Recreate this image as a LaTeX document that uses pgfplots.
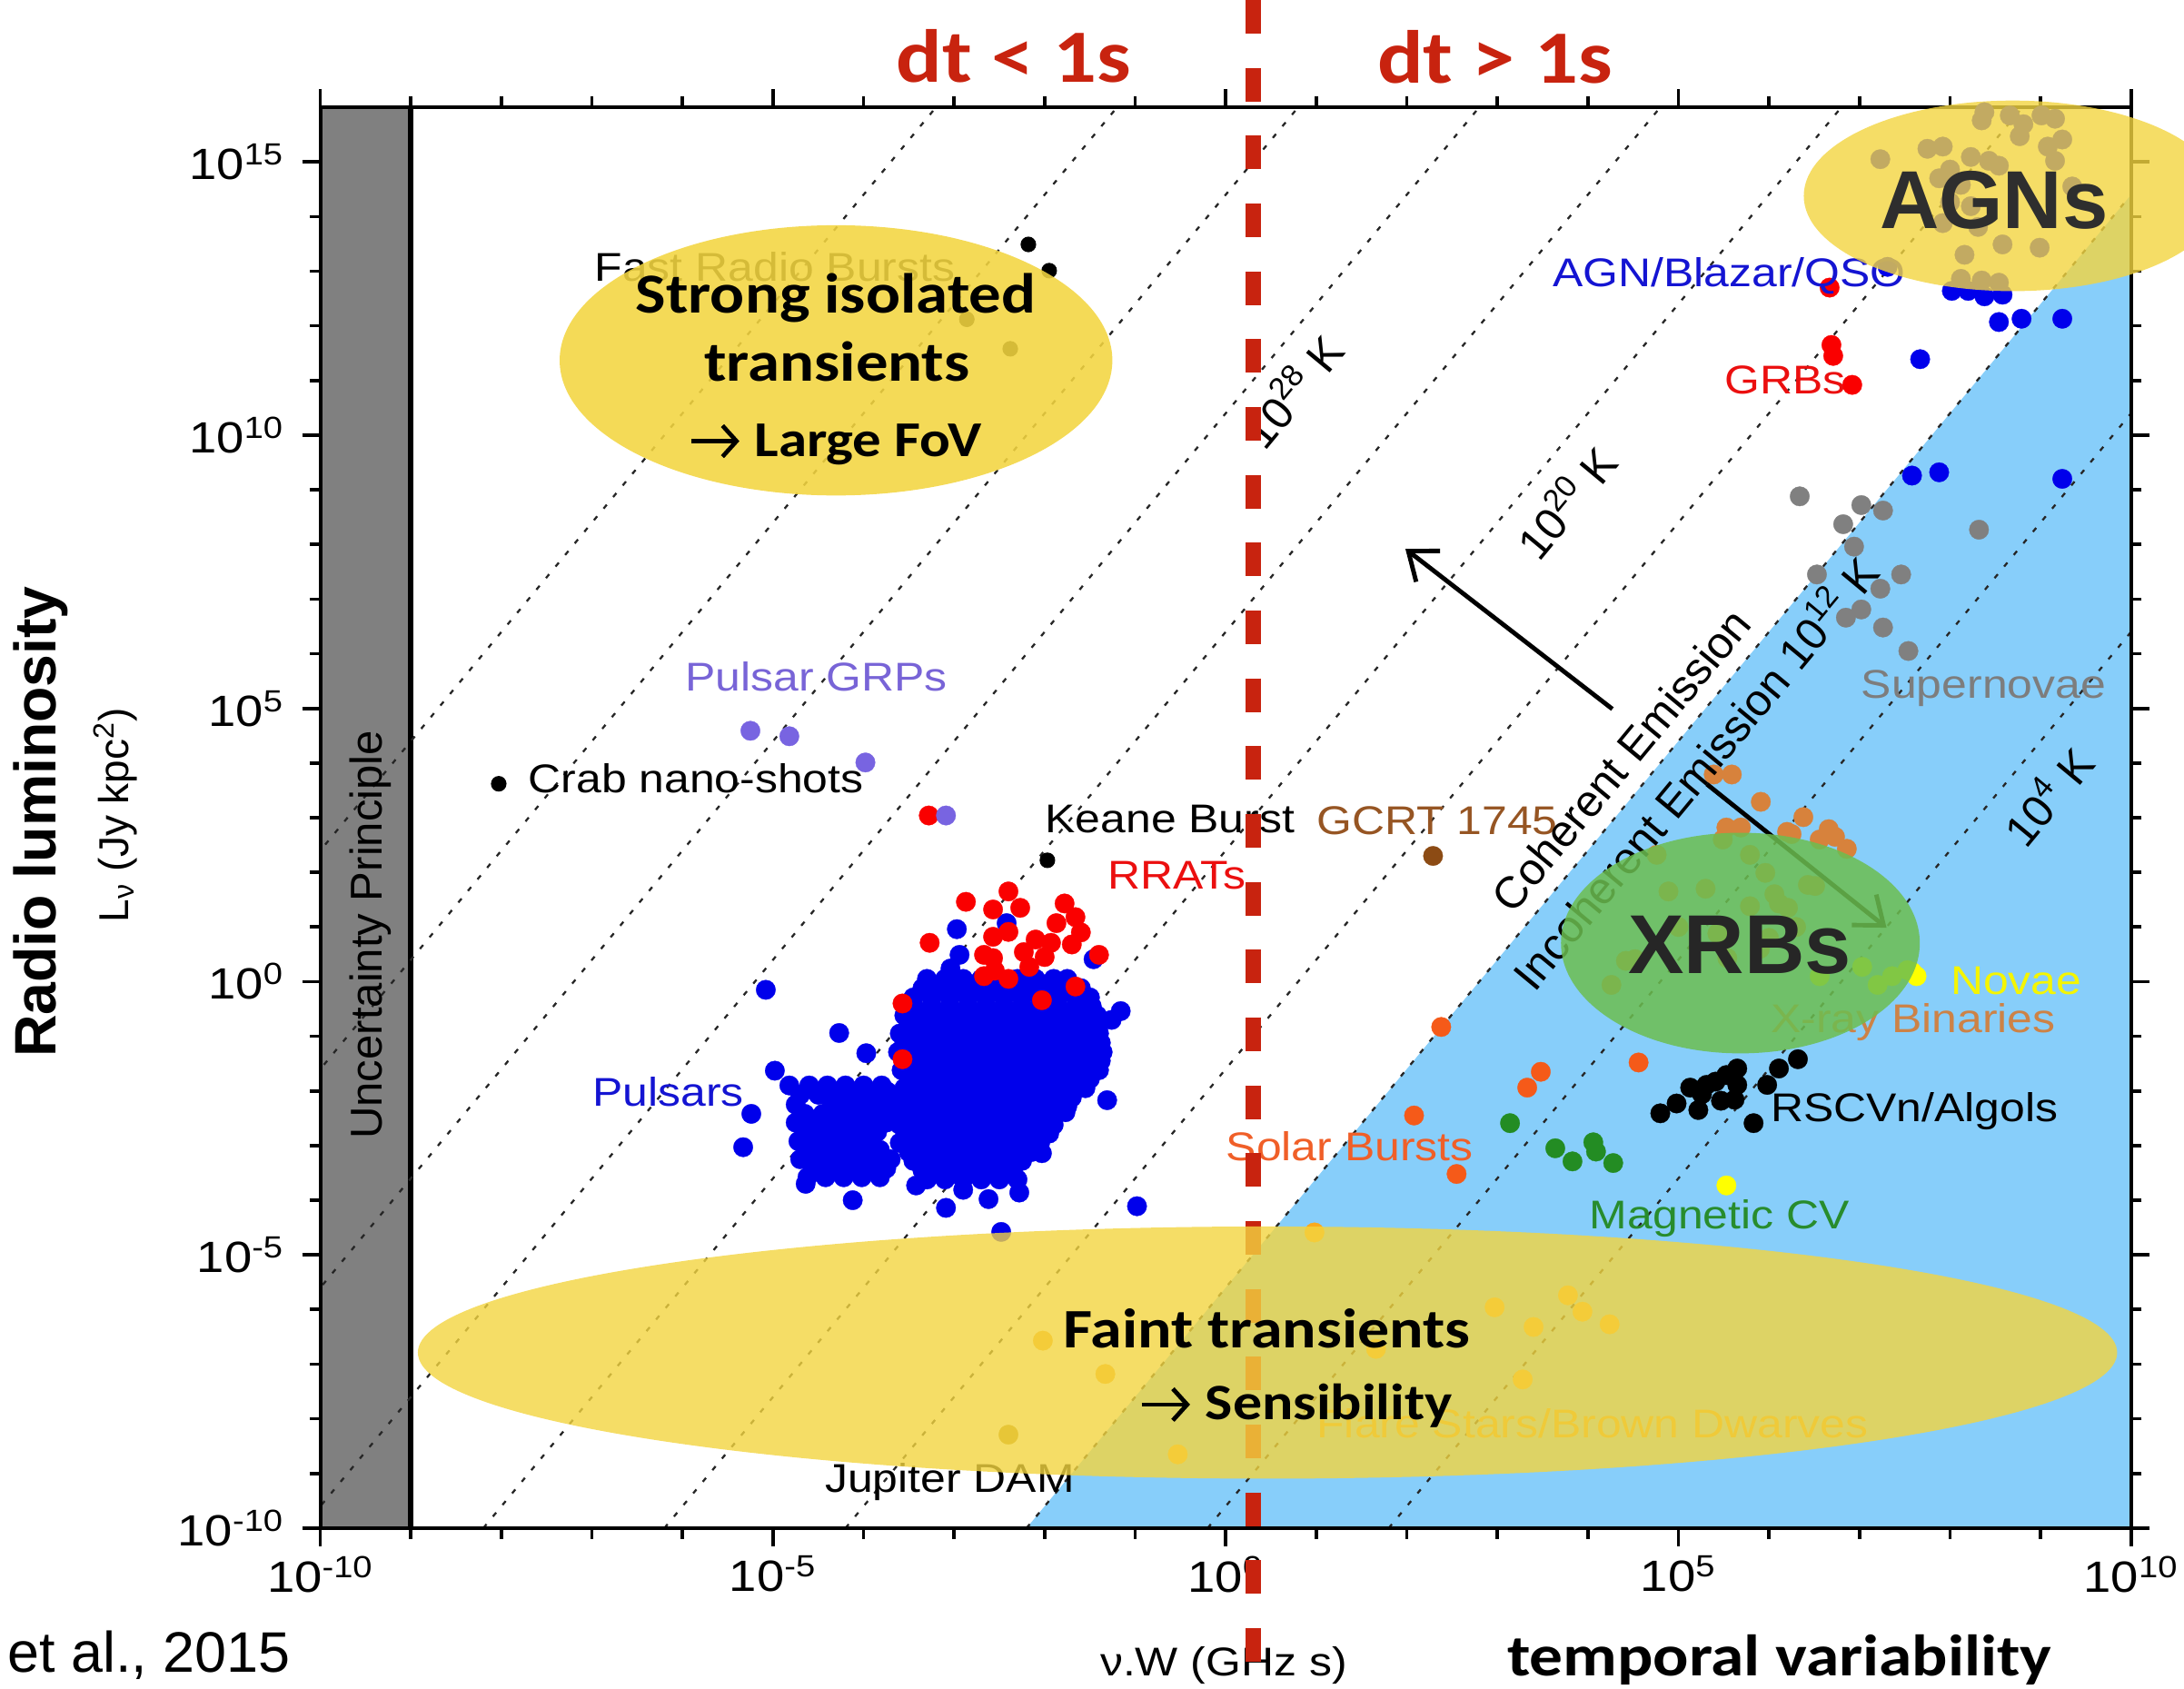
\documentclass[border=0pt]{standalone}
\usepackage{fontspec}
\setmainfont{Liberation Sans}
\newfontfamily\plotfont[FakeStretch=1.13]{Liberation Sans}
\newfontfamily\calfont[FakeStretch=1.14]{Carlito}
\usepackage{pgfplots}
\pgfplotsset{compat=1.18}
\usetikzlibrary{arrows.meta}

\definecolor{skyb}{RGB}{135,206,250}
\definecolor{bandgray}{RGB}{128,128,128}
\definecolor{psrblue}{RGB}{0,0,235}
\definecolor{rratred}{RGB}{250,0,0}
\definecolor{grpcol}{RGB}{120,100,225}
\definecolor{sncol}{RGB}{128,128,128}
\definecolor{xrbcol}{RGB}{215,130,60}
\definecolor{solarcol}{RGB}{245,90,25}
\definecolor{flarecol}{RGB}{250,170,30}
\definecolor{novacol}{RGB}{255,255,0}
\definecolor{mcvcol}{RGB}{35,140,35}
\definecolor{gcrtcol}{RGB}{140,75,20}
\definecolor{jupcol}{RGB}{185,140,20}
\definecolor{dtred}{RGB}{200,35,15}
\definecolor{ellyellow}{RGB}{243,213,64}
\definecolor{ellgreen}{RGB}{108,190,80}
\definecolor{lblblue}{RGB}{20,20,210}
\definecolor{lblred}{RGB}{235,15,15}
\definecolor{lblgrp}{RGB}{120,100,215}
\definecolor{lblsn}{RGB}{125,125,125}
\definecolor{lblxrb}{RGB}{205,130,70}
\definecolor{lblsolar}{RGB}{240,95,40}
\definecolor{lblmcv}{RGB}{40,140,45}
\definecolor{lblflare}{RGB}{225,160,30}
\definecolor{lblnova}{RGB}{245,245,0}
\definecolor{lblgcrt}{RGB}{150,85,35}

\pgfplotsset{dots/.style={only marks, mark=*, mark size=3.5pt, color=#1, mark options={solid, fill=#1, draw=#1, line width=0.1pt}},
  tline/.style={black!85, line width=0.75pt, dash pattern=on 1.8pt off 3.6pt}}

\newcommand{\lbl}[1]{\plotfont\fontsize{14.4}{16}\selectfont #1}
\newcommand{\tarrow}{\tikz[baseline=0pt]\draw[line width=0.085em,-{Straight Barb[length=0.28em,width=0.62em,line width=0.085em]}] (0,0.3em) -- (0.95em,0.3em);}

\begin{document}
\begin{tikzpicture}[x=1pt,y=1pt]
\path[use as bounding box] (0,0) rectangle (784,606);
\begin{axis}[
  at={(115pt,57.5pt)}, anchor=south west,
  scale only axis, width=650pt, height=510pt,
  xmin=-10, xmax=10, ymin=-10, ymax=16,
  axis on top,
  axis line style={line width=1.3pt},
  xtick={-10,-5,0,5,10}, minor xtick={-9,-8,...,9},
  ytick={-10,-5,0,5,10,15}, minor ytick={-9,-8,...,15},
  xtick pos=both, ytick pos=both, xticklabel pos=lower, yticklabel pos=left,
  tick align=outside,
  major tick length=6.5pt, minor tick length=3.8pt,
  every tick/.style={line width=1.2pt, black},
  xticklabels={10\textsuperscript{-10},10\textsuperscript{-5},10\textsuperscript{0},10\textsuperscript{5},10\textsuperscript{10}},
  yticklabels={10\textsuperscript{-10},10\textsuperscript{-5},10\textsuperscript{0},10\textsuperscript{5},10\textsuperscript{10},10\textsuperscript{15}},
  tick label style={font=\plotfont\fontsize{15.7}{17}\selectfont},
  yticklabel style={xshift=-3pt},
  clip=true,
]
% incoherent (blue) region below the 10^12 K line
\addplot[fill=skyb, draw=none] coordinates {(-2.2,-10) (10,14.4) (10,-10) (-2.2,-10)};
% uncertainty principle band
\addplot[fill=bandgray, draw=none] coordinates {(-10,-10) (-10,16) (-9,16) (-9,-10) (-10,-10)};
\addplot[black, line width=2pt] coordinates {(-9,-10) (-9,16)};
% brightness temperature lines
\addplot[tline] coordinates {(-16.2,-10) (-3.2,16)};
\addplot[tline] coordinates {(-14.2,-10) (-1.2,16)};
\addplot[tline] coordinates {(-12.2,-10) (0.8,16)};
\addplot[tline] coordinates {(-10.2,-10) (2.8,16)};
\addplot[tline] coordinates {(-8.2,-10) (4.8,16)};
\addplot[tline] coordinates {(-6.2,-10) (6.8,16)};
\addplot[tline] coordinates {(-4.2,-10) (8.8,16)};
\addplot[tline] coordinates {(-2.2,-10) (10.8,16)};
\addplot[tline] coordinates {(-0.2,-10) (12.8,16)};
\addplot[tline] coordinates {(1.8,-10) (14.8,16)};
% Pulsars
\addplot[dots=psrblue] coordinates {
(-3.30,0.05) (-3.10,0.05) (-2.90,0.05) (-2.70,0.05) (-2.50,0.05) (-2.30,0.05) (-2.10,0.05) (-1.90,0.05) (-1.75,0.05)
(-3.35,-0.12) (-3.15,-0.12) (-2.95,-0.12) (-2.75,-0.12) (-2.55,-0.12) (-2.35,-0.12) (-2.15,-0.12) (-1.95,-0.12) (-1.75,-0.12) (-1.60,-0.12)
(-3.45,-0.29) (-3.25,-0.29) (-3.05,-0.29) (-2.85,-0.29) (-2.65,-0.29) (-2.45,-0.29) (-2.25,-0.29) (-2.05,-0.29) (-1.85,-0.29) (-1.65,-0.29) (-1.50,-0.29)
(-3.45,-0.45) (-3.25,-0.45) (-3.05,-0.45) (-2.85,-0.45) (-2.65,-0.45) (-2.45,-0.45) (-2.25,-0.45) (-2.05,-0.45) (-1.85,-0.45) (-1.65,-0.45) (-1.48,-0.45)
(-3.55,-0.62) (-3.35,-0.62) (-3.15,-0.62) (-2.95,-0.62) (-2.75,-0.62) (-2.55,-0.62) (-2.35,-0.62) (-2.15,-0.62) (-1.95,-0.62) (-1.75,-0.62) (-1.55,-0.62) (-1.42,-0.62)
(-3.50,-0.78) (-3.30,-0.78) (-3.10,-0.78) (-2.90,-0.78) (-2.70,-0.78) (-2.50,-0.78) (-2.30,-0.78) (-2.10,-0.78) (-1.90,-0.78) (-1.70,-0.78) (-1.50,-0.78) (-1.40,-0.78)
(-3.60,-0.95) (-3.40,-0.95) (-3.20,-0.95) (-3.00,-0.95) (-2.80,-0.95) (-2.60,-0.95) (-2.40,-0.95) (-2.20,-0.95) (-2.00,-0.95) (-1.80,-0.95) (-1.60,-0.95) (-1.40,-0.95)
(-3.55,-1.12) (-3.35,-1.12) (-3.15,-1.12) (-2.95,-1.12) (-2.75,-1.12) (-2.55,-1.12) (-2.35,-1.12) (-2.15,-1.12) (-1.95,-1.12) (-1.75,-1.12) (-1.55,-1.12) (-1.38,-1.12)
(-3.62,-1.29) (-3.42,-1.29) (-3.22,-1.29) (-3.02,-1.29) (-2.82,-1.29) (-2.62,-1.29) (-2.42,-1.29) (-2.22,-1.29) (-2.02,-1.29) (-1.82,-1.29) (-1.62,-1.29) (-1.42,-1.29) (-1.36,-1.29)
(-3.52,-1.45) (-3.32,-1.45) (-3.12,-1.45) (-2.92,-1.45) (-2.72,-1.45) (-2.52,-1.45) (-2.32,-1.45) (-2.12,-1.45) (-1.92,-1.45) (-1.72,-1.45) (-1.52,-1.45) (-1.38,-1.45)
(-3.58,-1.62) (-3.38,-1.62) (-3.18,-1.62) (-2.98,-1.62) (-2.78,-1.62) (-2.58,-1.62) (-2.38,-1.62) (-2.18,-1.62) (-1.98,-1.62) (-1.78,-1.62) (-1.58,-1.62) (-1.40,-1.62)
(-3.50,-1.78) (-3.30,-1.78) (-3.10,-1.78) (-2.90,-1.78) (-2.70,-1.78) (-2.50,-1.78) (-2.30,-1.78) (-2.10,-1.78) (-1.90,-1.78) (-1.70,-1.78) (-1.50,-1.78)
(-3.55,-1.95) (-3.35,-1.95) (-3.15,-1.95) (-2.95,-1.95) (-2.75,-1.95) (-2.55,-1.95) (-2.35,-1.95) (-2.15,-1.95) (-1.95,-1.95) (-1.75,-1.95) (-1.55,-1.95)
(-3.50,-2.12) (-3.30,-2.12) (-3.10,-2.12) (-2.90,-2.12) (-2.70,-2.12) (-2.50,-2.12) (-2.30,-2.12) (-2.10,-2.12) (-1.90,-2.12) (-1.70,-2.12)
(-3.55,-2.28) (-3.35,-2.28) (-3.15,-2.28) (-2.95,-2.28) (-2.75,-2.28) (-2.55,-2.28) (-2.35,-2.28) (-2.15,-2.28) (-1.95,-2.28) (-1.75,-2.28)
(-3.50,-2.45) (-3.30,-2.45) (-3.10,-2.45) (-2.90,-2.45) (-2.70,-2.45) (-2.50,-2.45) (-2.30,-2.45) (-2.10,-2.45) (-1.90,-2.45)
(-3.60,-2.62) (-3.40,-2.62) (-3.20,-2.62) (-3.00,-2.62) (-2.80,-2.62) (-2.60,-2.62) (-2.40,-2.62) (-2.20,-2.62) (-2.00,-2.62) (-1.90,-2.62)
(-3.50,-2.78) (-3.30,-2.78) (-3.10,-2.78) (-2.90,-2.78) (-2.70,-2.78) (-2.50,-2.78) (-2.30,-2.78) (-2.10,-2.78) (-1.95,-2.78)
(-3.60,-2.95) (-3.40,-2.95) (-3.20,-2.95) (-3.00,-2.95) (-2.80,-2.95) (-2.60,-2.95) (-2.40,-2.95) (-2.20,-2.95) (-2.05,-2.95)
(-3.50,-3.12) (-3.30,-3.12) (-3.10,-3.12) (-2.90,-3.12) (-2.70,-3.12) (-2.50,-3.12) (-2.30,-3.12) (-2.15,-3.12)
(-3.45,-3.28) (-3.25,-3.28) (-3.05,-3.28) (-2.85,-3.28) (-2.65,-3.28) (-2.45,-3.28) (-2.25,-3.28)
(-3.35,-3.45) (-3.15,-3.45) (-2.95,-3.45) (-2.75,-3.45) (-2.55,-3.45) (-2.35,-3.45)
(-3.30,-3.62) (-3.10,-3.62) (-2.90,-3.62) (-2.70,-3.62) (-2.50,-3.62) (-2.30,-3.62)
(-4.82,-1.90) (-4.60,-1.90) (-4.40,-1.90) (-4.20,-1.90) (-4.00,-1.90) (-3.80,-1.90)
(-4.70,-2.07) (-4.50,-2.07) (-4.30,-2.07) (-4.10,-2.07) (-3.90,-2.07) (-3.70,-2.07)
(-4.75,-2.25) (-4.35,-2.25) (-4.15,-2.25) (-3.95,-2.25) (-3.75,-2.25)
(-4.65,-2.42) (-4.45,-2.42) (-4.25,-2.42) (-4.05,-2.42) (-3.85,-2.42) (-3.65,-2.42)
(-4.75,-2.58) (-4.55,-2.58) (-4.35,-2.58) (-4.15,-2.58) (-3.95,-2.58) (-3.75,-2.58)
(-4.65,-2.75) (-4.45,-2.75) (-4.25,-2.75) (-4.05,-2.75) (-3.85,-2.75)
(-4.72,-2.92) (-4.52,-2.92) (-4.32,-2.92) (-4.12,-2.92) (-3.92,-2.92)
(-4.62,-3.08) (-4.42,-3.08) (-4.22,-3.08) (-4.02,-3.08) (-3.82,-3.08)
(-4.70,-3.25) (-4.50,-3.25) (-4.30,-3.25) (-4.10,-3.25) (-3.90,-3.25) (-3.70,-3.25)
(-4.55,-3.42) (-4.35,-3.42) (-4.15,-3.42) (-3.95,-3.42) (-3.75,-3.42)
(-4.62,-3.58) (-4.42,-3.58) (-4.22,-3.58) (-4.02,-3.58) (-3.82,-3.58)
(-4.64,-3.70) (-4.12,-4.00) (-3.42,-3.73) (-2.90,-3.81) (-2.62,-3.98) (-2.28,-3.86) (-3.09,-4.14)
(-2.03,-3.14) (-1.77,-2.39) (-1.31,-2.17) (-1.26,-0.70) (-1.16,-0.54) (-1.46,0.41) (-2.97,0.96)
(-2.42,1.07) (-5.08,-0.15) (-4.27,-0.94) (-4.98,-1.63) (-3.97,-1.31) (-3.74,-2.01) (-5.24,-2.42)
(-5.33,-3.03) (-0.98,-4.11) (-2.48,-4.58) (-2.94,0.49) (-3.04,0.24) (-1.83,-0.01)
};
% RRATs
\addplot[dots=rratred] coordinates {
(-2.87,1.46) (-2.57,1.32) (-2.40,1.65) (-2.27,1.35) (-3.27,0.71) (-2.57,0.82) (-2.40,0.91)
(-2.67,0.49) (-2.57,0.43) (-2.67,0.10) (-2.40,0.05) (-2.23,0.54) (-2.10,0.77) (-2.17,0.27)
(-1.93,0.71) (-1.87,1.07) (-1.78,1.43) (-1.66,1.18) (-1.60,0.90) (-1.70,0.68) (-1.40,0.49)
(-1.66,-0.09) (-2.03,-0.34) (-3.57,-0.40) (-3.57,-1.42) (-3.28,3.04) (-2.00,0.45) (-2.55,0.20)
};
% Pulsar giant radio pulses
\addplot[dots=grpcol] coordinates {(-5.25,4.59) (-4.82,4.49) (-3.98,4.01) (-3.09,3.04)};
% Crab nano-shots, Keane burst, FRBs
\addplot[only marks, mark=*, mark size=2.6pt, black] coordinates {(-8.03,3.62) (-1.97,2.22) (-2.18,13.49) (-1.95,13.01) (-2.86,12.12) (-2.38,11.58)};
% GCRT 1745
\addplot[dots=gcrtcol] coordinates {(2.29,2.30)};
% Jupiter DAM
\addplot[dots=jupcol] coordinates {(-2.40,-8.29)};
% Flare stars / brown dwarfs
\addplot[dots=flarecol] coordinates {(-2.02,-6.57) (-1.33,-7.18) (-0.53,-8.65) (0.98,-4.59) (1.66,-6.72) (2.97,-5.96) (3.40,-6.32) (3.78,-5.74) (3.94,-6.04) (4.24,-6.27) (3.28,-7.28)};
% Solar bursts
\addplot[dots=solarcol] coordinates {(2.38,-0.83) (2.08,-2.45) (2.55,-3.52) (3.33,-1.94) (3.48,-1.65) (4.56,-1.48)};
% Magnetic CV
\addplot[dots=mcvcol] coordinates {(3.14,-2.59) (3.64,-3.05) (3.83,-3.29) (4.06,-2.94) (4.09,-3.11) (4.28,-3.32)};
% RSCVn / Algols
\addplot[dots=black] coordinates {(4.80,-2.41) (4.98,-2.23) (5.13,-1.94) (5.22,-2.35) (5.31,-1.89) (5.41,-1.83) (5.53,-1.71) (5.65,-1.59) (5.47,-2.18) (5.62,-2.16) (5.65,-1.89) (5.83,-2.59) (5.98,-1.89) (6.11,-1.59) (6.32,-1.42) (5.26,-2.06)};
% X-ray binaries
\addplot[dots=xrbcol] coordinates {(5.39,3.79) (5.59,3.79) (5.91,3.29) (6.38,3.01) (5.53,2.82) (5.69,2.82) (6.20,2.74) (6.25,2.70) (6.66,2.79) (6.73,2.65) (6.86,2.43) (6.56,2.60) (4.76,2.32) (4.89,1.65) (5.49,2.60) (5.79,2.32) (5.96,1.99) (6.43,1.77) (6.51,1.75) (6.06,1.60) (5.79,1.38) (6.11,1.43) (6.21,1.35) (4.26,-0.06) (4.42,0.38) (4.52,0.41) (5.43,0.88) (5.54,0.43) (5.00,1.00) (6.00,0.80) (5.30,1.70) (6.30,1.00) (5.90,0.60)};
% Novae
\addplot[dots=novacol] coordinates {(7.63,0.10) (7.58,0.18) (6.56,0.10) (7.03,0.27) (7.20,-0.06) (7.36,0.10) (7.53,0.21) (5.53,-3.73)};
% Supernovae
\addplot[dots=sncol] coordinates {(6.34,8.88) (7.02,8.72) (6.82,8.37) (7.26,8.62) (6.94,7.96) (8.32,8.27) (7.46,7.45) (7.23,7.19) (7.02,6.81) (6.85,6.66) (7.26,6.48) (6.53,7.45) (7.54,6.05)};
% GRBs
\addplot[dots=rratred] coordinates {(6.67,12.70) (6.69,11.65) (6.71,11.45) (6.92,10.92)};
% AGN / Blazar / QSO
\addplot[dots=psrblue] coordinates {(8.02,12.64) (8.20,12.64) (8.38,12.54) (8.58,12.57) (8.54,12.07) (8.79,12.13) (9.24,12.13) (7.67,11.39) (7.58,9.26) (7.88,9.32) (9.24,9.20)
(7.23,15.05) (7.75,15.24) (7.92,15.28) (8.35,15.76) (8.38,15.91) (8.66,15.85) (8.81,15.69) (9.01,15.85) (9.16,15.79) (8.77,15.47) (9.08,15.28) (9.24,15.41) (9.16,15.02) (8.23,15.09) (8.43,15.02) (8.54,14.93) (8.00,14.86) (7.88,14.70) (8.12,14.58) (8.00,14.26) (8.23,14.19) (7.92,13.88) (8.31,13.81) (8.58,13.49) (8.99,13.43) (8.16,13.30) (7.31,13.08) (8.12,12.86) (8.35,12.83) (8.54,12.79) (9.35,14.55)};
\end{axis}

% ---- source labels ----
\node[anchor=base west, inner sep=0] at (213.3,505) {\lbl{Fast Radio Bursts}};
\node[anchor=base west, inner sep=0, text=lblgrp] at (245.8,358) {\lbl{Pulsar GRPs}};
\node[anchor=base west, inner sep=0] at (189.5,321.5) {\lbl{Crab nano-shots}};
\node[anchor=base west, inner sep=0] at (375,307) {\lbl{Keane Burst}};
\node[anchor=base west, inner sep=0, text=lblred] at (397.5,287) {\lbl{RRATs}};
\node[anchor=base west, inner sep=0, text=lblblue] at (212.5,209) {\lbl{Pulsars}};
\node[anchor=base west, inner sep=0, text=lblgcrt] at (472.5,306.3) {\lbl{GCRT 1745}};
\node[anchor=base west, inner sep=0, text=lblblue] at (557.3,503) {\lbl{AGN/Blazar/QSO}};
\node[anchor=base west, inner sep=0, text=lblred] at (619,464.75) {\lbl{GRBs}};
\node[anchor=base west, inner sep=0, text=lblsn] at (668,355.5) {\lbl{Supernovae}};
\node[anchor=base west, inner sep=0, text=lblnova] at (700,249) {\lbl{Novae}};
\node[anchor=base west, inner sep=0, text=lblxrb] at (635.5,235.5) {\lbl{X-ray Binaries}};
\node[anchor=base west, inner sep=0] at (635.5,203.3) {\lbl{RSCVn/Algols}};
\node[anchor=base west, inner sep=0, text=lblsolar] at (440,189.5) {\lbl{Solar Bursts}};
\node[anchor=base west, inner sep=0, text=lblmcv] at (570.5,165) {\lbl{Magnetic CV}};
\node[anchor=base west, inner sep=0, text=lblflare] at (472.5,90) {\lbl{Flare Stars/Brown Dwarves}};
\node[anchor=base west, inner sep=0] at (296,70.5) {\lbl{Jupiter DAM}};
\node[anchor=base, inner sep=0, rotate=90] at (137,270.5) {\fontsize{16}{18}\selectfont Uncertainty Principle};
\node[rotate=50.36, inner sep=0] at (582,333.2) {\fontsize{16}{18}\selectfont Coherent Emission};
\node[rotate=50.36, inner sep=0] at (607.75,329.1) {\fontsize{16}{18}\selectfont Incoherent Emission 10\textsuperscript{12} K};
\node[rotate=50.36, inner sep=0] at (463.5,466) {\fontsize{16}{18}\selectfont 10\textsuperscript{28} K};
\node[rotate=50.36, inner sep=0] at (561.75,426) {\fontsize{16}{18}\selectfont 10\textsuperscript{20} K};
\node[rotate=50.36, inner sep=0] at (734.75,320.5) {\fontsize{16}{18}\selectfont 10\textsuperscript{4} K};

% axis titles
\node[anchor=base, inner sep=0, rotate=90] at (20,311) {\fontsize{21}{24}\selectfont\bfseries Radio luminosity};
\node[anchor=base, inner sep=0, rotate=90] at (46,313.5) {\fontsize{15}{17}\selectfont L\textsubscript{ν} (Jy kpc\textsuperscript{2})};
\node[anchor=base, inner sep=0] at (439.25,4.5) {\lbl{ν.W (GHz s)}};
\node[anchor=base west, inner sep=0] at (2.5,5.75) {\fontsize{20.5}{22}\selectfont et al., 2015};

% arrows
\draw[line width=1.6pt, -{Straight Barb[length=9pt,width=14pt,line width=1.6pt]}] (578.8,351.5) -- (504.5,409);
\draw[line width=1.6pt, -{Straight Barb[length=9pt,width=14pt,line width=1.6pt]}] (612.75,324.5) -- (677.2,273);

% dt = 1 s separator
\draw[dtred, line width=5.5pt, dash pattern=on 12.1pt off 12.25pt] (450,606) -- (450,0);

% highlight ellipses
\fill[ellyellow, fill opacity=0.88] (300.1,476.65) ellipse [x radius=99.2, y radius=48.5];
\fill[ellyellow, fill opacity=0.8] (455,120.5) ellipse [x radius=305, y radius=45.25];
\fill[ellyellow, fill opacity=0.8] (722.5,535.7) ellipse [x radius=75, y radius=34.2];
\fill[ellgreen, fill opacity=0.85] (624.75,267.5) ellipse [x radius=64.4, y radius=39.6];

\node[anchor=base, inner sep=0] at (300,493.7) {\calfont\bfseries\fontsize{20.25}{22}\selectfont Strong isolated};
\node[anchor=base, inner sep=0] at (300.5,469.35) {\calfont\bfseries\fontsize{20.25}{22}\selectfont transients};
\node[anchor=base, inner sep=0] at (300,442.25) {\calfont\bfseries\fontsize{18}{20}\selectfont \tarrow\ Large FoV};
\node[anchor=base, inner sep=0] at (454.75,122.25) {\calfont\bfseries\fontsize{20}{22}\selectfont Faint transients};
\node[anchor=base, inner sep=0] at (465.2,96.35) {\calfont\bfseries\fontsize{18.3}{20}\selectfont \tarrow\ Sensibility};
\node[anchor=base, inner sep=0, text=black!82] at (715.75,524.1) {\fontsize{29.5}{32}\selectfont\bfseries AGNs};
\node[anchor=base, inner sep=0, text=black!85] at (624.5,256.5) {\fontsize{30}{32}\selectfont\bfseries XRBs};

% headline annotations
\node[anchor=base, inner sep=0, text=dtred] at (364,576.6) {\calfont\bfseries\fontsize{27}{30}\selectfont dt < 1s};
\node[anchor=base, inner sep=0, text=dtred] at (536.6,576.2) {\calfont\bfseries\fontsize{27}{30}\selectfont dt > 1s};
\node[anchor=base, inner sep=0] at (638.8,4.5) {\calfont\bfseries\fontsize{21}{24}\selectfont temporal variability};
\end{tikzpicture}
\end{document}
